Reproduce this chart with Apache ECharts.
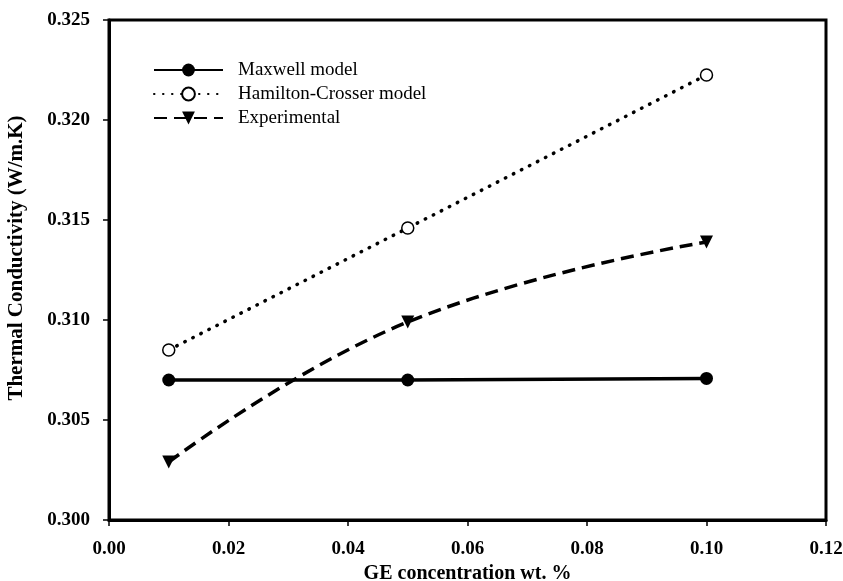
<!DOCTYPE html>
<html>
<head>
<meta charset="utf-8">
<script src="https://cdn.jsdelivr.net/npm/echarts@6/dist/echarts.min.js"></script>
<style>
  html, body { margin: 0; padding: 0; background: #fff; }
  #chart { width: 843px; height: 581px; }
</style>
</head>
<body>
<div id="chart"></div>
<script>
// data
const concentrations = [0.01, 0.05, 0.10]
const maxwell = [0.3070, 0.3070, 0.30708]
const hamilton = [0.3085, 0.3146, 0.32225]
const experimental = [0.3029, 0.3099, 0.3139]

const serif = 'Liberation Serif'

const pairs = (ys) => concentrations.map((x, i) => [x, ys[i]])

const chart = echarts.init(document.getElementById('chart'))

const option = {
  animation: false,
  grid: {
    left: 109, right: 17, top: 20, bottom: 61,
    outerBoundsMode: 'none', containLabel: false,
    show: true, borderColor: '#000', borderWidth: 3
  },
  legend: {
    orient: 'vertical',
    left: 148, top: 55,
    itemWidth: 69, itemHeight: 16, itemGap: 4,
    textStyle: { fontFamily: serif, fontSize: 19, lineHeight: 20, color: '#000', padding: [0, 0, 0, 10] },
    data: ['Maxwell model', 'Hamilton-Crosser model', 'Experimental']
  },
  xAxis: {
    type: 'value',
    min: 0, max: 0.12, interval: 0.02,
    name: 'GE concentration wt. %',
    nameLocation: 'middle', nameGap: 40,
    nameTextStyle: { fontFamily: serif, fontSize: 20, fontWeight: 'bold', color: '#000' },
    axisLine: { lineStyle: { color: '#000', width: 3 } },
    axisTick: { lineStyle: { color: '#000', width: 1.5 }, length: 6 },
    axisLabel: {
      fontFamily: serif, fontSize: 19, fontWeight: 'bold', color: '#000', margin: 20,
      formatter: v => v.toFixed(2)
    },
    splitLine: { show: false }
  },
  yAxis: {
    type: 'value',
    min: 0.3, max: 0.325, interval: 0.005,
    name: 'Thermal Conductivity (W/m.K)',
    nameLocation: 'middle', nameGap: 82,
    nameTextStyle: { fontFamily: serif, fontSize: 21, fontWeight: 'bold', color: '#000', padding: [0, 0, 0, 24] },
    axisLine: { show: true, lineStyle: { color: '#000', width: 3 } },
    axisTick: { show: true, lineStyle: { color: '#000', width: 1.5 }, length: 6 },
    axisLabel: {
      fontFamily: serif, fontSize: 19, fontWeight: 'bold', color: '#000', margin: 19,
      formatter: v => v.toFixed(3)
    },
    splitLine: { show: false }
  },
  series: [
    {
      name: 'Maxwell model',
      type: 'line',
      data: pairs(maxwell),
      symbol: 'circle', symbolSize: 13,
      itemStyle: { color: '#000' },
      lineStyle: { color: '#000', width: 3.5 }
    },
    {
      name: 'Hamilton-Crosser model',
      type: 'line',
      data: pairs(hamilton),
      symbol: 'circle', symbolSize: 12,
      itemStyle: { color: '#fff', borderColor: '#000', borderWidth: 1.5 },
      lineStyle: { color: '#000', width: 3.5, type: [0.5, 8.5], cap: 'round' }
    },
    {
      name: 'Experimental',
      type: 'line',
      data: pairs(experimental),
      smooth: 0.45,
      symbol: 'triangle', symbolRotate: 180, symbolSize: 13,
      itemStyle: { color: '#000' },
      lineStyle: { color: '#000', width: 3.5, type: [13, 7] }
    }
  ]
}

chart.setOption(option)
</script>
</body>
</html>
